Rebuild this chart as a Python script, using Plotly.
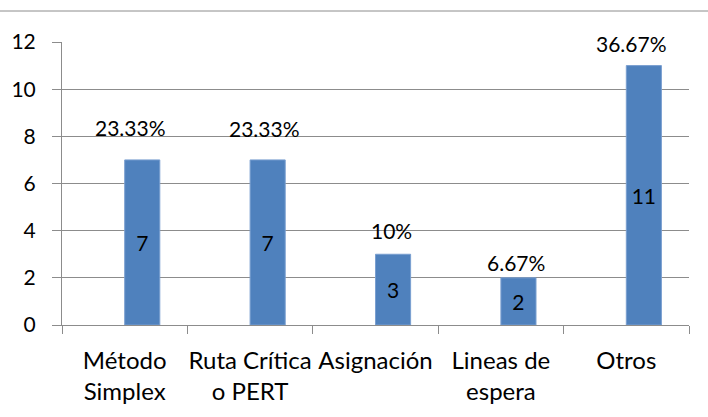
import plotly.graph_objects as go

categories = ["Método<br>Simplex", "Ruta Crítica<br>o PERT", "Asignación", "Lineas de<br>espera", "Otros"]
counts = [7, 7, 3, 2, 11]
percent_labels = ["23.33%", "23.33%", "10%", "6.67%", "36.67%"]
y_ticks = [0, 2, 4, 6, 8, 10, 12]

# label placement (pixel shifts relative to bar top at category centre)
pct_xshift = [6, 14, 16, 15, 5]
pct_yshift = [32, 31, 24, 15, 22]

FONT = "Lato"
FS = 21
FS_CAT = 24
GRAY = "#8c8c8c"

fig = go.Figure()
fig.add_trace(go.Bar(
    x=categories, y=counts,
    width=0.28, offset=0,
    marker=dict(color="#4f81bd", line=dict(color="#7a9fd0", width=1)),
    text=[str(c) for c in counts],
    textposition="inside", insidetextanchor="middle",
    textfont=dict(family=FONT, size=FS, color="black"),
    hoverinfo="skip",
))

for i, (c, v, t) in enumerate(zip(categories, counts, percent_labels)):
    fig.add_annotation(x=c, y=v, text=t, showarrow=False,
                       xanchor="center", yanchor="middle",
                       xshift=pct_xshift[i], yshift=pct_yshift[i],
                       font=dict(family=FONT, size=FS, color="black"))

L, R, T, B = 62, 19, 42, 92
W, H = 708, 417
pw, ph = W - L - R, H - T - B
fig.add_shape(type="line", xref="paper", yref="paper",
              x0=-L / pw, x1=1 + R / pw, y0=1 + (T - 11) / ph, y1=1 + (T - 11) / ph,
              line=dict(color=GRAY, width=1))

fig.update_layout(
    width=W, height=H,
    margin=dict(l=L, r=R, t=T, b=B, autoexpand=False),
    paper_bgcolor="white", plot_bgcolor="white",
    showlegend=False,
    font=dict(family=FONT, size=FS, color="black"),
    xaxis=dict(
        range=[-0.5, 4.5], showgrid=False, automargin=False,
        showline=True, linecolor=GRAY, linewidth=1,
        ticks="outside", tickson="boundaries", ticklen=8, tickcolor=GRAY,
        tickfont=dict(family=FONT, size=FS_CAT, color="black"),
        tickangle=0, ticklabelstandoff=14,
    ),
    yaxis=dict(
        range=[0, 12], tickvals=y_ticks, automargin=False,
        showgrid=True, gridcolor=GRAY, gridwidth=1,
        showline=True, linecolor=GRAY, linewidth=1,
        ticks="outside", ticklen=9, tickcolor=GRAY,
        tickfont=dict(family=FONT, size=FS, color="black"),
        ticklabelstandoff=12,
        zeroline=False,
    ),
)

fig.write_html("out.html",
               config={"displayModeBar": False},
               post_script="document.body.style.margin='0px';document.body.style.overflow='hidden';")
